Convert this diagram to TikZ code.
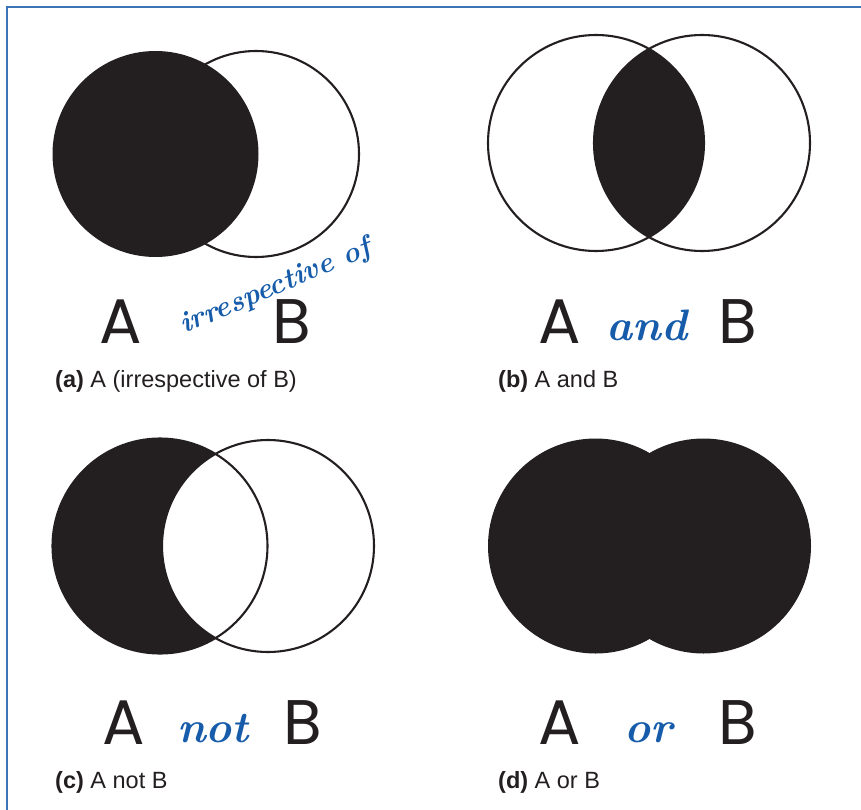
\documentclass[tikz,border=0pt]{standalone}
\usepackage{fontspec}
\setmainfont{Liberation Sans}
\newfontfamily\letterfont{Poppins}
\newfontfamily\handfont{lmroman10-bolditalic.otf}
\usepackage{xcolor}
\definecolor{inkdark}{RGB}{35,31,32}
\definecolor{penblue}{RGB}{22,92,170}
\definecolor{frameblue}{RGB}{61,116,184}
\tikzset{
  venn/.style={
    draw=inkdark,
    line width=2.1pt
  },
  shaded/.style={
    fill=inkdark
  },
  letter/.style={
    anchor=base,
    inner sep=0pt,
    text=inkdark,
    font=\letterfont\fontsize{63}{63}\selectfont
  },
  handword/.style={
    inner sep=0pt,
    text=penblue,
    font=\handfont\fontsize{44}{44}\selectfont
  },
  caption/.style={
    anchor=base west,
    inner sep=0pt,
    text=inkdark,
    font=\fontsize{23.5}{28}\selectfont
  }
}

\begin{document}
\begin{tikzpicture}[x=1pt,y=-1pt]
    \useasboundingbox (0,0) rectangle (861,810);
    % frame
    \draw[frameblue, line width=1.2pt] (7,810)--(7,7)--(861,7);

    % (a) A irrespective of B
    \draw[venn] (256,154) circle (103);
    \fill[shaded] (155.5,154) circle (103);
    \node[letter] (Aa) at (121,343) {A};
    \node[letter] (Ba) at (292,343) {B};
    \node[handword, anchor=base west, rotate=23, font=\handfont\fontsize{29}{29}\selectfont] (wa) at (184,334) {irrespective of};
    \node[caption] (capa) at (55,387) {\textbf{(a)} A (irrespective of B)};

    % (b) A and B
    \begin{scope}
      \clip (596,143) circle (108);
      \fill[shaded] (702,143) circle (108);
    \end{scope}
    \draw[venn] (596,143) circle (108);
    \draw[venn] (702,143) circle (108);
    \node[letter] (Ab) at (560,343) {A};
    \node[letter] (Bb) at (738,343) {B};
    \node[handword, anchor=base] (wb) at (647,340) {and};
    \node[caption] (capb) at (498,387) {\textbf{(b)} A and B};

    % (c) A not B
    \fill[shaded] (160,546) circle (107.5);
    \fill[white] (268,546) circle (106);
    \draw[venn] (160,546) circle (107.5);
    \draw[venn] (268,546) circle (106);
    \node[letter] (Ac) at (124,744) {A};
    \node[letter] (Bc) at (303,744) {B};
    \node[handword, anchor=base] (wc) at (213,742) {not};
    \node[caption] (capc) at (55,788) {\textbf{(c)} A not B};

    % (d) A or B
    \fill[shaded] (595.5,546) circle (107.5);
    \fill[shaded] (703.5,546) circle (107.5);
    \node[letter] (Ad) at (560,744) {A};
    \node[letter] (Bd) at (738,744) {B};
    \node[handword, anchor=base] (wd) at (649,742) {or};
    \node[caption] (capd) at (498,788) {\textbf{(d)} A or B};
\end{tikzpicture}
\end{document}
